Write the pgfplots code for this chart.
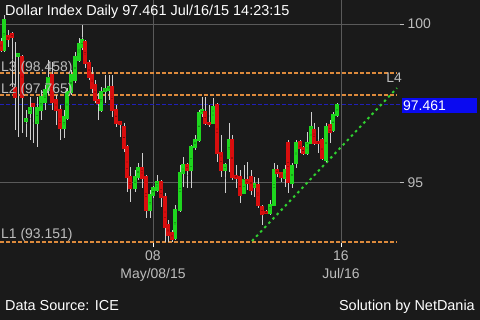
\documentclass[border=0pt]{standalone}
\usepackage{fontspec}
\setmainfont{Liberation Sans}
\usepackage{pgfplots}
\usepackage{pgfplotstable}
\pgfplotsset{compat=1.18}
\definecolor{bg}{HTML}{1A1A1A}
\definecolor{upc}{HTML}{1ED61E}
\definecolor{dnc}{HTML}{D80E0E}
\definecolor{wick}{HTML}{CFCFCF}
\definecolor{gridc}{HTML}{5A5A5A}
\definecolor{lvl}{HTML}{DC8A3C}
\definecolor{cur}{HTML}{2020B8}
\definecolor{trend}{HTML}{30D030}
\definecolor{lab}{HTML}{BDBDBD}
\definecolor{boxc}{HTML}{0A0AF0}

% up (green) candles: x o h l c
\pgfplotstableread{
x o h l c
4 99.182 100.283 99.119 100.126
18 98.994 99.088 96.447 99.057
26 96.950 97.296 96.447 97.013
30 97.201 97.704 96.352 97.358
37 96.887 97.704 96.132 97.358
41 97.296 97.925 96.981 97.704
45 97.547 98.082 97.296 97.925
48 97.925 98.868 97.767 98.302
64 96.730 97.296 96.415 97.075
67 97.044 97.987 96.981 97.862
71 97.862 98.553 97.767 98.396
75 98.239 99.119 98.145 98.962
79 98.868 99.560 98.805 99.371
82 99.277 99.969 99.182 99.497
101 97.296 98.019 97.233 97.862
105 97.893 98.396 97.516 97.956
109 97.925 98.396 97.610 98.019
135 94.843 95.409 94.717 95.189
138 95.189 95.629 95.094 95.472
150 94.151 94.780 93.899 94.623
153 94.623 94.906 94.528 94.843
157 94.780 95.252 94.717 95.031
175 93.270 94.308 93.208 94.151
180 94.151 95.566 94.088 95.314
183 95.314 95.818 94.874 95.566
191 95.409 96.195 94.843 96.132
195 96.132 96.509 96.038 96.352
199 96.352 97.296 96.289 97.201
202 97.201 97.704 97.075 97.296
213 96.887 97.673 96.855 97.390
225 95.409 95.629 94.686 95.566
229 95.786 96.887 95.346 96.352
244 94.686 95.566 94.654 95.094
254 94.874 95.189 94.560 94.969
270 94.057 94.465 93.994 94.308
274 94.308 95.629 94.277 95.409
285 95.157 95.566 94.874 95.409
292 95.000 95.629 94.843 95.535
296 95.629 96.352 95.472 96.258
307 95.943 96.604 95.881 96.258
311 96.258 97.233 96.226 96.761
326 95.723 96.887 95.660 96.761
333 96.667 97.233 96.604 97.138
337 97.138 97.516 97.075 97.461
}\up

% down (red) candles: x o h l c
\pgfplotstableread{
x o h l c
1 99.434 99.560 99.119 99.182
8 99.623 99.811 99.277 99.528
12 99.686 99.748 98.019 99.591
15 97.987 99.434 96.667 97.704
22 98.962 99.025 96.572 97.704
33 97.484 97.516 96.258 97.421
52 98.396 98.805 97.296 97.547
56 97.610 97.767 96.824 97.296
60 97.296 97.453 96.352 96.730
85 99.434 99.497 98.616 98.774
89 98.774 98.868 98.239 98.333
92 98.396 98.648 97.830 97.987
95 98.082 98.239 97.516 97.610
98 97.610 97.830 96.981 97.516
112 98.019 98.396 97.075 97.296
116 97.296 97.453 96.761 96.887
120 96.918 96.950 96.447 96.855
124 96.761 96.887 95.975 96.101
127 96.132 96.195 94.717 95.189
130 95.189 95.503 94.403 94.843
142 95.472 95.943 94.843 95.157
146 95.189 95.252 93.899 94.151
161 95.031 95.094 94.245 94.560
165 94.560 94.686 93.145 93.616
168 93.679 93.836 93.145 93.365
172 93.428 93.522 93.151 93.239
187 95.566 95.629 94.843 95.409
205 97.233 97.704 96.824 96.887
209 96.887 97.453 96.761 96.855
217 97.453 97.516 95.660 95.943
221 95.943 96.509 95.189 95.409
232 96.352 96.509 95.094 95.189
236 95.220 95.566 94.843 95.157
240 95.189 95.409 94.371 94.623
247 95.094 95.660 94.780 95.000
251 95.189 95.409 94.623 94.780
258 94.937 95.157 94.214 94.308
262 94.245 94.308 93.679 94.025
266 94.088 94.151 94.025 94.057
277 95.409 95.566 95.189 95.314
281 95.314 95.346 95.031 95.189
288 96.258 96.352 94.686 95.031
300 96.289 96.352 95.943 96.101
303 96.101 96.164 95.881 95.943
314 96.667 96.887 96.195 96.258
318 96.289 96.761 95.943 96.258
322 96.352 96.415 95.723 95.786
330 96.824 96.981 96.258 96.604
}\down

\pgfplotsset{candle/.style={only marks, mark=*, mark options={draw=none, fill=none, scale=0.01}, forget plot,
  error bars/y dir=both, error bars/y explicit, error bars/error mark=none}}

\begin{document}
\begin{tikzpicture}
\fill[bg] (0bp,0bp) rectangle (480bp,320bp);
\begin{axis}[
  at={(0bp,320bp)}, anchor=north west,
  scale only axis, width=400bp, height=243bp,
  xmin=0, xmax=400, ymin=93.113, ymax=100.755,
  clip=false,
  axis line style={draw=none},
  xtick={153,341}, xticklabels={{08\\May/08/15},{16\\Jul/16}},
  ytick={95,100}, yticklabels={95,100},
  xtick pos=bottom, ytick pos=right, yticklabel pos=right,
  tick align=outside, major tick length=4bp,
  xtick style={draw=white, line width=1bp},
  ytick style={draw=lab, line width=1bp},
  xmajorgrids, ymajorgrids,
  grid style={draw=gridc, line width=1bp},
  xticklabel style={align=center, font=\fontsize{14}{18}\selectfont, text=lab},
  yticklabel style={font=\fontsize{14}{16}\selectfont, text=lab},
]
% level lines
\addplot[lvl, line width=1.6bp, dash pattern=on 3.5bp off 2.5bp, forget plot] coordinates {(0,98.458) (397,98.458)};
\addplot[lvl, line width=1.6bp, dash pattern=on 3.5bp off 2.5bp, forget plot] coordinates {(0,97.765) (397,97.765)};
\addplot[lvl, line width=1.6bp, dash pattern=on 3.5bp off 2.5bp, forget plot] coordinates {(0,93.151) (397,93.151)};
\addplot[cur, line width=1.3bp, dash pattern=on 3.5bp off 2.5bp, forget plot] coordinates {(0,97.461) (400,97.461)};
\addplot[trend, line width=2bp, dash pattern=on 2.5bp off 3.5bp, forget plot] coordinates {(252,93.176) (397,97.987)};
% wicks
\addplot[candle, error bars/error bar style={draw=wick, line width=1bp}]
  table[x=x, y expr={(\thisrow{h}+\thisrow{l})/2}, y error expr={(\thisrow{h}-\thisrow{l})/2}] {\up};
\addplot[candle, error bars/error bar style={draw=wick, line width=1bp}]
  table[x=x, y expr={(\thisrow{h}+\thisrow{l})/2}, y error expr={(\thisrow{h}-\thisrow{l})/2}] {\down};
% bodies
\addplot[candle, error bars/error bar style={draw=upc, line width=3.3bp}]
  table[x=x, y expr={(\thisrow{o}+\thisrow{c})/2}, y error expr={(\thisrow{c}-\thisrow{o})/2+0.02}] {\up};
\addplot[candle, error bars/error bar style={draw=dnc, line width=3.3bp}]
  table[x=x, y expr={(\thisrow{o}+\thisrow{c})/2}, y error expr={(\thisrow{o}-\thisrow{c})/2+0.02}] {\down};
% labels
\node[anchor=base west, text=lab, inner sep=0, font=\fontsize{14}{16}\selectfont] at (axis cs:1,98.522) {L3 (98.458)};
\node[anchor=base west, text=lab, inner sep=0, font=\fontsize{14}{16}\selectfont] at (axis cs:1,97.830) {L2 (97.765)};
\node[anchor=base west, text=lab, inner sep=0, font=\fontsize{14}{16}\selectfont] at (axis cs:1,93.270) {L1 (93.151)};
\node[anchor=base east, text=lab, inner sep=0, font=\fontsize{14}{16}\selectfont] at (axis cs:402,98.176) {L4};
\node[anchor=west, fill=boxc, text=white, inner xsep=1bp, inner ysep=0, minimum height=15bp, text width=73bp, align=left, font=\fontsize{14}{14}\selectfont] at (axis cs:402,97.44) {97.461};
\end{axis}
\node[anchor=base west, text=white, inner sep=0, font=\fontsize{14.5}{17}\selectfont] at (5bp,304bp) {Dollar Index Daily 97.461 Jul/16/15 14:23:15};
\node[anchor=base west, text=white, inner sep=0, font=\fontsize{14.5}{17}\selectfont] at (5bp,10bp) {Data Source: ICE};
\node[anchor=base east, text=white, inner sep=0, font=\fontsize{14.5}{17}\selectfont] at (475bp,10bp) {Solution by NetDania};
\pgfresetboundingbox
\useasboundingbox (0bp,0bp) rectangle (480bp,320bp);
\end{tikzpicture}
\end{document}
